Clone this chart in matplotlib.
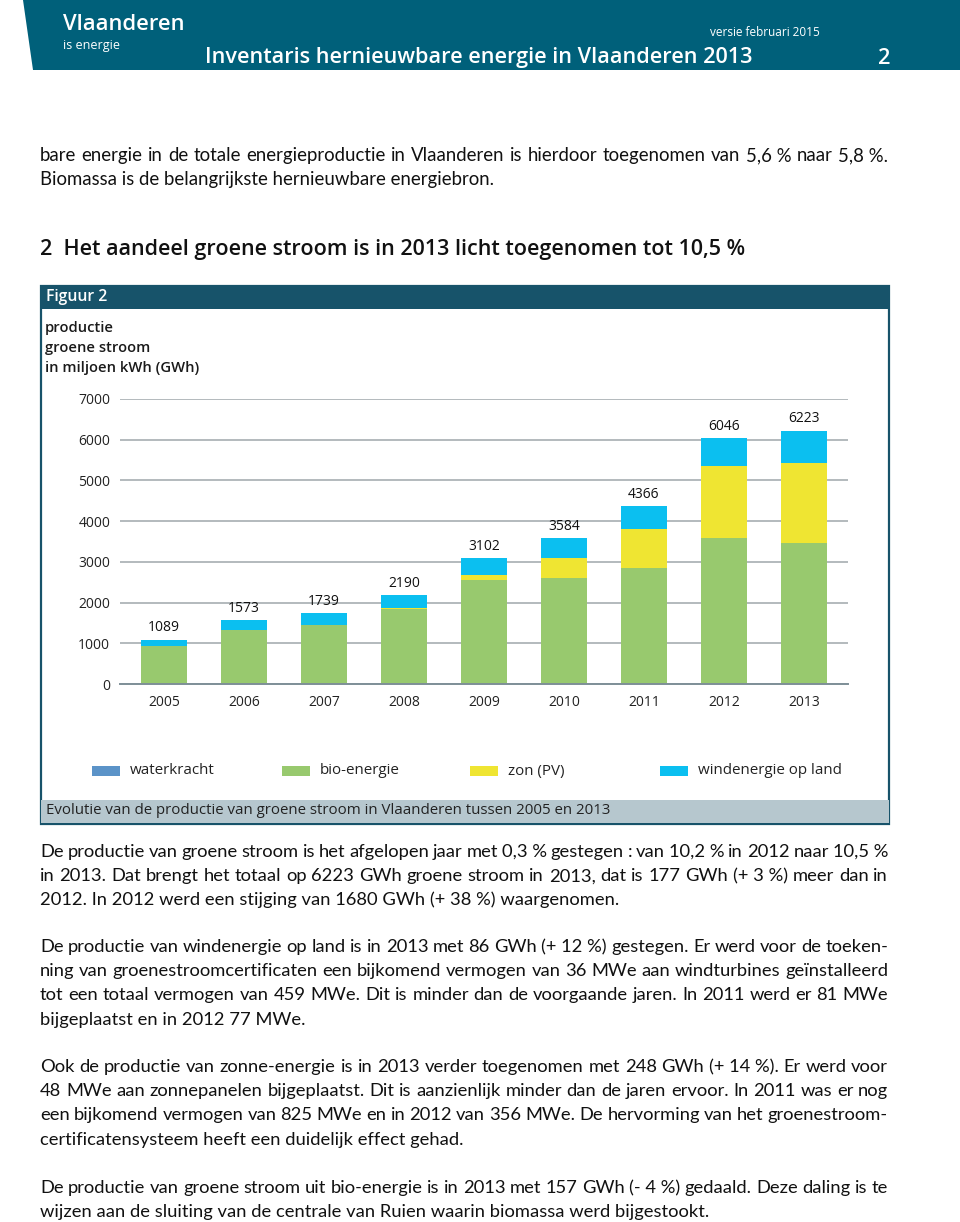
import numpy as np
import matplotlib
matplotlib.use('Agg')
import matplotlib.pyplot as plt
from matplotlib.patches import Rectangle, Polygon

# data
years = ['2005', '2006', '2007', '2008', '2009', '2010', '2011', '2012', '2013']
totals = [1089, 1573, 1739, 2190, 3102, 3584, 4366, 6046, 6223]
waterkracht = [3, 3, 3, 3, 3, 3, 3, 3, 3]
bio_energie = [934, 1313, 1445, 1830, 2555, 2597, 2850, 3587, 3458]
zon_pv = [0, 2, 3, 25, 130, 500, 942, 1762, 1972]
wind_land = [152, 255, 288, 332, 414, 484, 571, 694, 790]
series_names = ['waterkracht', 'bio-energie', 'zon (PV)', 'windenergie op land']
series_colors = ['#5b93c8', '#98c96e', '#efe532', '#0bbff0']

TEAL = '#00607a'
DARK = '#17536a'
BODY = ['Lato', 'DejaVu Sans']
CHART = ['Open Sans', 'DejaVu Sans']

W, H = 960, 1222
fig = plt.figure(figsize=(W / 100, H / 100), dpi=100)

# overlay in pixel coordinates
bg = fig.add_axes([0, 0, 1, 1])
bg.set_xlim(0, W)
bg.set_ylim(H, 0)
bg.axis('off')

# header band
bg.add_patch(Rectangle((0, 0), W, 70, color=TEAL, lw=0))
bg.add_patch(Polygon([(0, 0), (23, 0), (33, 70), (0, 70)], closed=True, color='white', lw=0))
bg.text(63, 25, 'Vlaanderen', color='white', fontsize=15.8, family=CHART, weight='semibold', va='center')
bg.text(63, 45, 'is energie', color='white', fontsize=9, family=CHART, va='center')
bg.text(710, 33, 'versie februari 2015', color='white', fontsize=8.5, family=CHART, va='center')
bg.text(205, 58, 'Inventaris hernieuwbare energie in Vlaanderen 2013', color='white',
        fontsize=15.6, family=CHART, weight='semibold', va='center')
bg.text(878, 58, '2', color='white', fontsize=15.6, family=CHART, weight='semibold', va='center')

renderer = fig.canvas.get_renderer()
LEFT, RIGHT = 40, 888


def paragraph(lines, y0, size=13.2, lh=24.2):
    # justified text, last line left aligned
    for i, line in enumerate(lines):
        y = y0 + i * lh
        if i == len(lines) - 1:
            bg.text(LEFT, y, line, fontsize=size, family=BODY, va='baseline', color='#111111')
            continue
        words = line.split(' ')
        widths = []
        for w in words:
            t = bg.text(0, 0, w, fontsize=size, family=BODY)
            widths.append(t.get_window_extent(renderer).width)
            t.remove()
        gap = (RIGHT - LEFT - sum(widths)) / max(len(words) - 1, 1)
        x = LEFT
        for w, wd in zip(words, widths):
            bg.text(x, y, w, fontsize=size, family=BODY, va='baseline', color='#111111')
            x += wd + gap


paragraph(['bare energie in de totale energieproductie in Vlaanderen is hierdoor toegenomen van 5,6\u00a0% naar 5,8\u00a0%.',
           'Biomassa is de belangrijkste hernieuwbare energiebron.'], 161, size=13.4)

bg.text(40, 249, '2  Het aandeel groene stroom is in 2013 licht toegenomen tot 10,5\u00a0%', fontsize=15.5,
        family=CHART, weight='semibold', va='center', color='#111111')

# chart frame
bg.add_patch(Rectangle((41, 286), 848, 538, fill=False, ec=DARK, lw=1.6))
bg.add_patch(Rectangle((41, 286), 848, 23, color=DARK, lw=0))
bg.add_patch(Rectangle((41, 800), 848, 23, color='#b6c7ce', lw=0))
bg.text(46, 297, 'Figuur 2', color='white', fontsize=11.3, family=CHART, weight='semibold', va='center')
for k, s in enumerate(['productie', 'groene stroom', 'in miljoen kWh (GWh)']):
    bg.text(45, 328 + 20 * k, s, fontsize=10.6, family=CHART, weight='semibold', va='center', color='#1a1a1a')
bg.text(46, 811, 'Evolutie van de productie van groene stroom in Vlaanderen tussen 2005 en 2013',
        fontsize=10.8, family=CHART, va='center', color='#222222')

# legend
leg_x = [92, 282, 470, 660]
for lx, name, col in zip(leg_x, series_names, series_colors):
    bg.add_patch(Rectangle((lx, 766), 28, 10, color=col, lw=0))
    bg.text(lx + 38, 771, name, fontsize=10.9, family=CHART, va='center', color='#222222')

# bar chart
ax = fig.add_axes([120 / W, 1 - 684 / H, (848 - 120) / W, 285 / H])
x = np.arange(len(years))
bw = 0.57
bottom = np.zeros(len(years))
for vals, col in zip([waterkracht, bio_energie, zon_pv, wind_land], series_colors):
    ax.bar(x, vals, bw, bottom=bottom, color=col, lw=0, zorder=2)
    bottom += np.array(vals)
for xi, tot in zip(x, totals):
    ax.annotate(str(tot), (xi, tot), xytext=(0, 3), textcoords='offset points', ha='center',
                va='bottom', fontsize=10, family=CHART, color='#111111')
ax.set_xlim(-0.55, 8.55)
ax.set_ylim(0, 7000)
ax.set_yticks(range(0, 7001, 1000))
ax.set_xticks(x)
ax.set_xticklabels(years)
ax.tick_params(length=0, labelsize=10, colors='#222222')
ax.tick_params(axis='y', pad=7)
ax.tick_params(axis='x', pad=8)
for lab in ax.get_xticklabels() + ax.get_yticklabels():
    lab.set_family(CHART)
ax.grid(axis='y', color='#a7aeb2', lw=1.2, zorder=0)
ax.set_axisbelow(True)
for sp in ['top', 'right', 'left']:
    ax.spines[sp].set_visible(False)
ax.spines['bottom'].set_color('#7e8f97')
ax.spines['bottom'].set_linewidth(1.4)
ax.patch.set_alpha(0)

paragraph(['De productie van groene stroom is het afgelopen jaar met 0,3\u00a0% gestegen : van 10,2\u00a0% in 2012 naar 10,5\u00a0%',
           'in 2013. Dat brengt het totaal op 6223 GWh groene stroom in 2013, dat is 177 GWh (+\u00a03\u00a0%) meer dan in',
           '2012. In 2012 werd een stijging van 1680 GWh (+\u00a038\u00a0%) waargenomen.'], 857)
paragraph(['De productie van windenergie op land is in 2013 met 86 GWh (+\u00a012\u00a0%) gestegen. Er werd voor de toeken-',
           'ning van groenestroomcertificaten een bijkomend vermogen van 36 MWe aan windturbines geïnstalleerd',
           'tot een totaal vermogen van 459 MWe. Dit is minder dan de voorgaande jaren. In 2011 werd er 81 MWe',
           'bijgeplaatst en in 2012 77 MWe.'], 952)
paragraph(['Ook de productie van zonne-energie is in 2013 verder toegenomen met 248 GWh (+\u00a014\u00a0%). Er werd voor',
           '48 MWe aan zonnepanelen bijgeplaatst. Dit is aanzienlijk minder dan de jaren ervoor. In 2011 was er nog',
           'een bijkomend vermogen van 825 MWe en in 2012 van 356 MWe. De hervorming van het groenestroom-',
           'certificatensysteem heeft een duidelijk effect gehad.'], 1072)
paragraph(['De productie van groene stroom uit bio-energie is in 2013 met 157 GWh (-\u00a04\u00a0%) gedaald. Deze daling is te',
           'wijzen aan de sluiting van de centrale van Ruien waarin biomassa werd bijgestookt.'], 1193)

fig.savefig('out.png', dpi=100)
